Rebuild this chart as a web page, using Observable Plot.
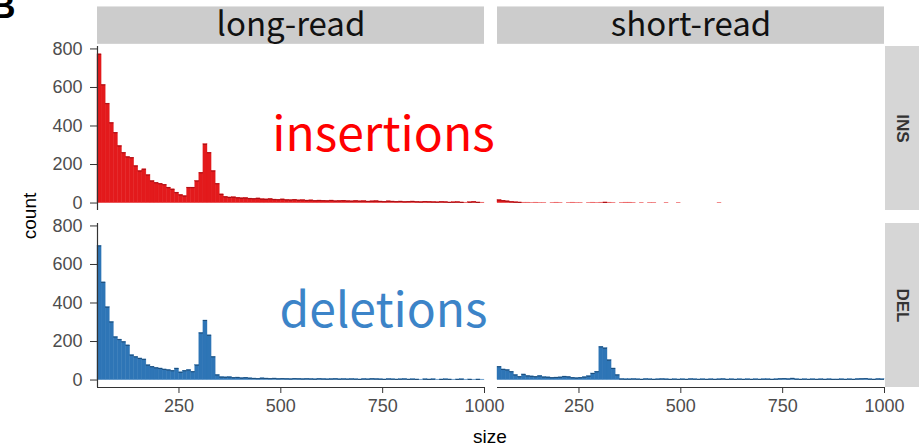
<!DOCTYPE html>
<html>
<head>
<meta charset="utf-8">
<script src="https://cdn.jsdelivr.net/npm/d3@7"></script>
<script src="https://cdn.jsdelivr.net/npm/@observablehq/plot@0.6"></script>
<style>
html, body { margin: 0; padding: 0; background: #fff; }
#chart { width: 919px; height: 448px; overflow: hidden; }
</style>
</head>
<body>
<div id="chart"></div>
<script>
// ---- data ----
const platforms = ["long-read", "short-read"];
const svTypes = ["INS", "DEL"];
const binWidth = 10;
const binStarts = d3.range(50, 1000, binWidth); // 95 bins of size

const insLong = [
  772,613,516,416,365,296,261,239,235,192,166,175,145,114,105,100,95,80,71,54,42,36,80,80,114,157,305,261,166,100,45,
  32,29,30,27,25,26,23,22,24,20,
  19,21,18,17,19,16,15,17,14,15,
  13,14,12,13,12,11,13,10,11,12,
  10,9,11,9,10,8,9,10,8,7,
  9,8,7,8,6,7,8,6,5,7,
  6,5,4,6,5,3,4,5,3,2,
  4,6,3,2
];
const insShort = [
  15,12,9,6,4,3,2,2,1,2,
  1,1,0,1,2,1,0,1,2,1,
  1,0,1,2,1,2,3,2,1,0,
  1,2,2,1,0,1,0,1,1,0,
  0,1,0,0,1,0,0,0,0,0,
  0,0,0,0,1,0,0,0,0,0,
  0,0,0,0,0,0,0,0,0,0,
  0,0,0,0,0,0,0,0,0,0,
  0,0,0,0,0,0,0,0,0,0,
  0,0,0,0,0
];
const delLong = [
  696,507,378,301,223,210,198,180,129,120,112,107,77,69,63,60,55,52,48,60,40,48,52,43,77,244,309,232,120,26,15,
  14,15,12,13,10,12,9,8,7,9,
  8,7,8,6,7,6,5,7,6,5,
  6,5,4,6,5,4,5,6,4,5,
  4,5,4,3,5,4,6,5,4,3,
  5,4,3,4,5,3,4,3,2,4,
  3,4,2,3,4,3,2,3,4,2,
  3,2,3,2
];
const delShort = [
  69,55,52,43,26,17,29,21,19,17,
  21,15,14,12,13,14,18,16,12,10,
  12,15,20,34,43,172,165,103,60,26,
  5,4,4,5,4,3,5,4,3,4,
  5,4,3,4,3,4,3,5,4,3,
  4,3,4,3,4,5,3,4,3,4,
  3,4,3,4,3,4,4,3,4,6,
  7,5,8,4,3,4,3,4,3,4,
  3,4,3,3,4,3,4,3,5,6,
  7,4,3,5,4
];
const xTicks = [250, 500, 750, 1000];
const yTicks = [0, 200, 400, 600, 800];
const annotationLabels = {INS: "insertions", DEL: "deletions"};

// ---- styles ----
const fills = {INS: "#E31A1C", DEL: "#2E75B6"};
const edges = {INS: "#A50F15", DEL: "#1F4E79"};
const annColors = {INS: "#FF0000", DEL: "#3C84C8"};
const xDomain = [50, 1000];
const yDomain = [-38.7, 812.7];
const sans = "Liberation Sans, Arial, sans-serif";

// ---- build table ----
const series = {
  "long-read": {INS: insLong, DEL: delLong},
  "short-read": {INS: insShort, DEL: delShort}
};
const rows = [];
for (const p of platforms) for (const t of svTypes) {
  series[p][t].forEach((c, i) => rows.push({platform: p, type: t, x1: binStarts[i], x2: binStarts[i] + binWidth, count: c}));
}

const topStrips = platforms.map(p => ({platform: p, type: "INS"}));
const rightStrips = svTypes.map(t => ({platform: "short-read", type: t}));
const leftCells = svTypes.map(t => ({platform: "long-read", type: t}));
const bottomCells = platforms.map(p => ({platform: p, type: "DEL"}));
const annotations = svTypes.map(t => ({platform: "long-read", type: t, label: annotationLabels[t]}));

const marks = [];
// strips
marks.push(Plot.rect(topStrips, {fx: "platform", fy: "type", x1: () => xDomain[0], x2: () => xDomain[1], y1: () => 824, y2: () => 1018, fill: "#cccccc"}));
marks.push(Plot.text(topStrips, {fx: "platform", fy: "type", x: () => (xDomain[0] + xDomain[1]) / 2, y: () => 921, text: "platform", fontSize: 33, fontFamily: "Noto Sans CJK SC", fill: "#111"}));
marks.push(Plot.rect(rightStrips, {fx: "platform", fy: "type", x1: () => 1002.5, x2: () => 1095, y1: () => yDomain[0], y2: () => yDomain[1], fill: "#d6d6d6"}));
marks.push(Plot.text(rightStrips, {fx: "platform", fy: "type", x: () => 1043, y: () => (yDomain[0] + yDomain[1]) / 2, text: "type", rotate: 90, fontSize: 17, fontWeight: "bold", fontFamily: sans, fill: "#333"}));

// bars
for (const t of svTypes) {
  const data = rows.filter(d => d.type === t && d.count > 0);
  marks.push(Plot.rect(data, {fx: "platform", fy: "type", x1: "x1", x2: "x2", y1: () => 0, y2: "count", fill: fills[t], stroke: fills[t], strokeWidth: 0.4}));
  marks.push(Plot.ruleY(data.filter(d => d.count >= 3), {fx: "platform", fy: "type", x1: "x1", x2: "x2", y: "count", stroke: edges[t], strokeWidth: 1}));
}

// axes
marks.push(Plot.ruleX(leftCells, {fx: "platform", fy: "type", x: () => xDomain[0], stroke: "#333", strokeWidth: 1.2}));
marks.push(Plot.ruleY(bottomCells, {fx: "platform", fy: "type", y: () => yDomain[0], stroke: "#333", strokeWidth: 1.2}));
marks.push(Plot.axisY({ticks: yTicks, tickFormat: d => String(d), tickSize: 7, tickPadding: 8, stroke: "#333", fill: "#4d4d4d", fontSize: 18, fontFamily: sans, label: null}));
marks.push(Plot.axisX({ticks: xTicks, tickFormat: d => String(d), tickSize: 6, tickPadding: 6, stroke: "#333", fill: "#4d4d4d", fontSize: 18, fontFamily: sans, label: null}));

// annotations
for (const t of svTypes) {
  marks.push(Plot.text(annotations.filter(d => d.type === t), {fx: "platform", fy: "type", x: () => 752, y: () => (t === "INS" ? 270 : 275), text: "label", lineAnchor: "bottom", fontSize: 48, fontFamily: "Noto Sans CJK SC", fill: annColors[t]}));
}

const plot = Plot.plot({
  width: 919,
  height: 448,
  marginLeft: 96,
  marginRight: 34.7,
  marginTop: 45.5,
  marginBottom: 61,
  style: {fontFamily: sans, fontSize: "18px", background: "white"},
  x: {domain: xDomain, axis: null},
  y: {domain: yDomain, axis: null},
  fx: {domain: platforms, axis: null, paddingInner: 0.0327, paddingOuter: 0},
  fy: {domain: svTypes, axis: null, paddingInner: 0.076, paddingOuter: 0},
  marks
});

const svg = d3.select(plot);
svg.append("text").attr("x", 3).attr("y", 18).attr("font-family", sans).attr("font-weight", "bold").attr("font-size", 35).attr("fill", "#000").text("B");
svg.append("text").attr("transform", "translate(36,216) rotate(-90)").attr("text-anchor", "middle").attr("font-family", sans).attr("font-size", 19).attr("fill", "#000").text("count");
svg.append("text").attr("x", 490).attr("y", 443).attr("text-anchor", "middle").attr("font-family", sans).attr("font-size", 19).attr("fill", "#000").text("size");

document.getElementById("chart").appendChild(plot);
</script>
</body>
</html>
